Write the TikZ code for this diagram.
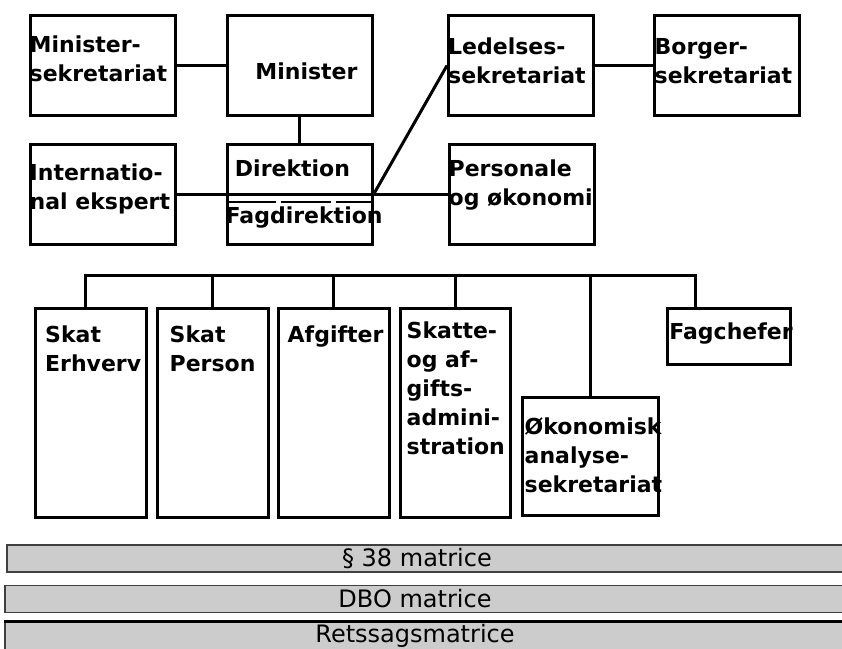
\documentclass[tikz,border=0pt]{standalone}
\usepackage{fontspec}
\setmainfont{DejaVu Sans}
\usepackage{tikz}

\tikzset{
	boks/.style={draw, line width=3pt, inner sep=0pt},
	stor/.style={boks, minimum width=145pt, minimum height=100pt},
	afd/.style={boks, minimum width=111pt, minimum height=209pt},
	navn/.style={font=\bfseries\fontsize{22}{29}\selectfont, align=left, inner sep=0pt, anchor=north west},
	matrice/.style={draw=black!75, fill=black!20, line width=1.5pt, minimum width=840pt, minimum height=27pt, inner sep=0pt},
	mtekst/.style={font=\fontsize{24}{26}\selectfont, inner sep=0pt, anchor=center, xshift=-10pt},
	forb/.style={line width=3pt},
}

\begin{document}
\begin{tikzpicture}[x=1pt, y=-1pt]
	\useasboundingbox (0,0) rectangle (842,648);
	% ledelsen
	\node[stor, label={[navn, xshift=1pt, yshift=-22pt]north west:Minister-\\sekretariat}] (minsek) at (102.5,65.5) {};
	\node[stor, label={[navn, anchor=center, xshift=7pt, yshift=-6pt]center:Minister}] (minister) at (299.5,65.5) {};
	\node[stor, label={[navn, xshift=1pt, yshift=-24pt]north west:Ledelses-\\sekretariat}] (ledelse) at (521,65.5) {};
	\node[stor, label={[navn, xshift=2pt, yshift=-24pt]north west:Borger-\\sekretariat}] (borger) at (726.5,65.5) {};
	\node[stor, label={[navn, xshift=1pt, yshift=-21pt]north west:Internatio-\\nal ekspert}] (intl) at (102.5,194.5) {};
	\node[stor, label={[navn, anchor=center, xshift=-7pt, yshift=26pt]center:Direktion},
		label={[navn, xshift=0pt, yshift=-64pt]north west:Fagdirektion}] (direktion) at (299.5,194.5) {};
	\node[stor, label={[navn, xshift=1pt, yshift=-17pt]north west:Personale\\og økonomi}] (personale) at (521.5,194.5) {};
	\draw[forb] (minsek) -- (minister);
	\draw[forb] (ledelse) -- (borger);
	\draw[forb] (minister) -- (direktion);
	\draw[forb] (intl.east) -- (personale.west);
	\draw[forb] (direktion.east) -- (ledelse.west);
	\draw[line width=2pt, dash pattern=on 50pt off 5pt] ([yshift=-7pt]direktion.west) -- ([yshift=-7pt]direktion.east);
	% fagomraader
	\node[afd, label={[navn, xshift=11pt, yshift=-19pt]north west:Skat\\Erhverv}] (erhverv) at (91,412.5) {};
	\node[afd, label={[navn, xshift=14pt, yshift=-19pt]north west:Skat\\Person}] (person) at (212.5,412.5) {};
	\node[afd, label={[navn, xshift=11pt, yshift=-19pt]north west:Afgifter}] (afgifter) at (333.5,412.5) {};
	\node[afd, minimum width=110pt, label={[navn, xshift=8pt, yshift=-15pt]north west:Skatte-\\og af-\\gifts-\\admini-\\stration}] (skatte) at (455,412.5) {};
	\node[boks, minimum width=136pt, minimum height=118pt, label={[navn, xshift=4pt, yshift=-22pt]north west:Økonomisk\\analyse-\\sekretariat}] (okonomi) at (590,456) {};
	\node[boks, minimum width=123pt, minimum height=56pt, label={[navn, anchor=center, xshift=2.5pt, yshift=2pt]center:Fagchefer}] (fagchefer) at (728.5,336) {};
	\coordinate (skinne) at (0,275);
	\coordinate (erhtop) at ([xshift=-6pt]erhverv.north);
	\coordinate (fagtop) at ([xshift=-33pt]fagchefer.north);
	\draw[forb] (erhtop) -- (erhtop |- skinne) -| (fagtop);
	\foreach \n in {person,afgifter,skatte,okonomi}
		\draw[forb] (\n.north) -- (\n.north |- skinne);
	% matricer
	\node[matrice, label={[mtekst]center:§ 38 matrice}] (par38) at (427,558.5) {};
	\node[matrice, label={[mtekst]center:DBO matrice}] (dbo) at (425,599) {};
	\node[matrice, label={[mtekst]center:Retssagsmatrice}] (retssag) at (425,636) {};
	\draw[line width=3pt] (retssag.north west) -- (retssag.north east);
\end{tikzpicture}
\end{document}
